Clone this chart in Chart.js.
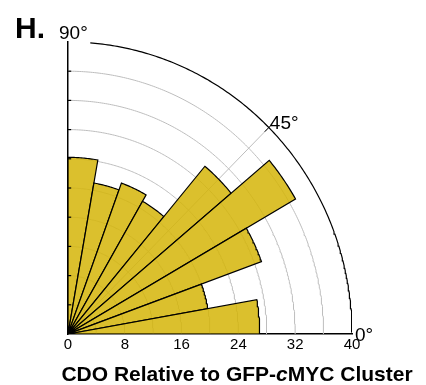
<!DOCTYPE html>
<html><head><meta charset="utf-8">
<script src="https://cdn.jsdelivr.net/npm/chart.js@4/dist/chart.umd.min.js"></script>
<style>html,body{margin:0;padding:0;background:#fff;overflow:hidden}#c{display:block}</style>
</head><body><canvas id="c" width="426" height="385"></canvas>
<script>
// ---- data ----
const binStartDeg = [0, 10, 20, 30, 40, 50, 60, 70, 80];
const binWidthDeg = 10;
const counts = [27, 20, 29, 37, 30, 21, 22, 21, 24.2];
const radialTicks = [0, 8, 16, 24, 32, 40];
const gridRings = [4, 8, 12, 16, 20, 24, 28, 32, 36];
const radialMax = 40;
const angleLabels = ['0°', '45°', '90°'];
const panelLabel = 'H.';
const titleParts = [['CDO Relative to GFP-', 'normal'], ['c', 'italic'], ['MYC Cluster', 'normal']];

// ---- helpers ----
const FONT = '"Liberation Sans", Arial, Helvetica, sans-serif';
const rad = d => d * Math.PI / 180;
function arcPts(r, a1, a2, step) {
  const pts = [];
  const n = Math.max(1, Math.round((a2 - a1) / step));
  for (let i = 0; i <= n; i++) {
    const a = rad(a1 + (a2 - a1) * i / n);
    pts.push({x: r * Math.cos(a), y: r * Math.sin(a)});
  }
  return pts;
}

const datasets = [];
// grid rings (drawn first, beneath bars)
gridRings.forEach(r => datasets.push({
  data: arcPts(r, 0, 90, 0.5), showLine: true, fill: false,
  borderColor: '#bdbdbd', borderWidth: 1, pointRadius: 0, order: 10
}));
// 45 deg spoke
datasets.push({data: [{x: 0, y: 0}, {x: radialMax * Math.cos(rad(45)), y: radialMax * Math.sin(rad(45))}],
  showLine: true, fill: false, borderColor: '#bdbdbd', borderWidth: 1, pointRadius: 0, order: 10});
// outer ring
datasets.push({data: arcPts(radialMax, 0, 85.5, 0.5), showLine: true, fill: false,
  borderColor: '#000', borderWidth: 1.2, pointRadius: 0, order: 1});
// 45 deg tick crossing the outer ring
datasets.push({data: [{x: 39.2 * Math.cos(rad(45)), y: 39.2 * Math.sin(rad(45))}, {x: 40.6 * Math.cos(rad(45)), y: 40.6 * Math.sin(rad(45))}],
  showLine: true, fill: false, borderColor: '#000', borderWidth: 1, pointRadius: 0, order: 1});
// inner ticks on the vertical axis
gridRings.forEach(r => datasets.push({data: [{x: 0, y: r}, {x: 0.45, y: r}], showLine: true, fill: false,
  borderColor: '#000', borderWidth: 1.2, pointRadius: 0, order: 1}));
// wedges
counts.forEach((c, i) => {
  const a1 = binStartDeg[i], a2 = a1 + binWidthDeg;
  const pts = [{x: 0, y: 0}].concat(arcPts(c, a1, a2, 0.5), [{x: 0, y: 0}]);
  datasets.push({data: pts, showLine: true, fill: 'shape',
    backgroundColor: 'rgba(213,182,11,0.86)', borderColor: '#000', borderWidth: 1.2,
    borderJoinStyle: 'miter', pointRadius: 0, order: 5});
});

const textPlugin = {
  id: 'texts',
  afterDraw(chart) {
    const ctx = chart.ctx, xs = chart.scales.x, ys = chart.scales.y;
    ctx.save();
    ctx.fillStyle = '#000';
    ctx.textBaseline = 'alphabetic';
    ctx.textAlign = 'left';
    ctx.font = 'bold 30px ' + FONT;
    ctx.fillText(panelLabel, 15, 38);
    ctx.font = '19px ' + FONT;
    ctx.fillText(angleLabels[2], xs.getPixelForValue(0) - 9, ys.getPixelForValue(radialMax) - 3);
    const p45x = xs.getPixelForValue(radialMax * Math.cos(rad(45)));
    const p45y = ys.getPixelForValue(radialMax * Math.sin(rad(45)));
    ctx.fillText(angleLabels[1], p45x + 1, p45y + 1);
    ctx.fillText(angleLabels[0], xs.getPixelForValue(radialMax) + 3, ys.getPixelForValue(0) + 7);
    // title
    let total = 0;
    const fonts = titleParts.map(([t, s]) => (s === 'italic' ? 'italic ' : '') + 'bold 21px ' + FONT);
    titleParts.forEach(([t], i) => { ctx.font = fonts[i]; total += ctx.measureText(t).width; });
    let x = 237 - total / 2;
    titleParts.forEach(([t], i) => { ctx.font = fonts[i]; ctx.fillText(t, x, 381); x += ctx.measureText(t).width; });
    ctx.restore();
  }
};

new Chart(document.getElementById('c'), {
  type: 'scatter',
  data: {datasets},
  options: {
    responsive: false, animation: false, events: [],
    layout: {padding: {left: 68, top: 42, right: 74, bottom: 25}},
    plugins: {legend: {display: false}, tooltip: {enabled: false}},
    scales: {
      x: {
        type: 'linear', min: 0, max: radialMax,
        afterBuildTicks: s => { s.ticks = radialTicks.map(v => ({value: v})); },
        ticks: {color: '#000', font: {size: 15, family: FONT}, padding: 2, maxRotation: 0, autoSkip: false},
        grid: {drawOnChartArea: false, drawTicks: false},
        border: {color: '#000', width: 1.5},
        afterFit: s => { s.height = 26; }
      },
      y: {
        type: 'linear', min: 0, max: radialMax,
        ticks: {display: false},
        grid: {drawOnChartArea: false, drawTicks: false},
        border: {color: '#000', width: 1.5},
        afterFit: s => { s.width = 0; }
      }
    }
  },
  plugins: [textPlugin]
});
</script>
</body></html>
